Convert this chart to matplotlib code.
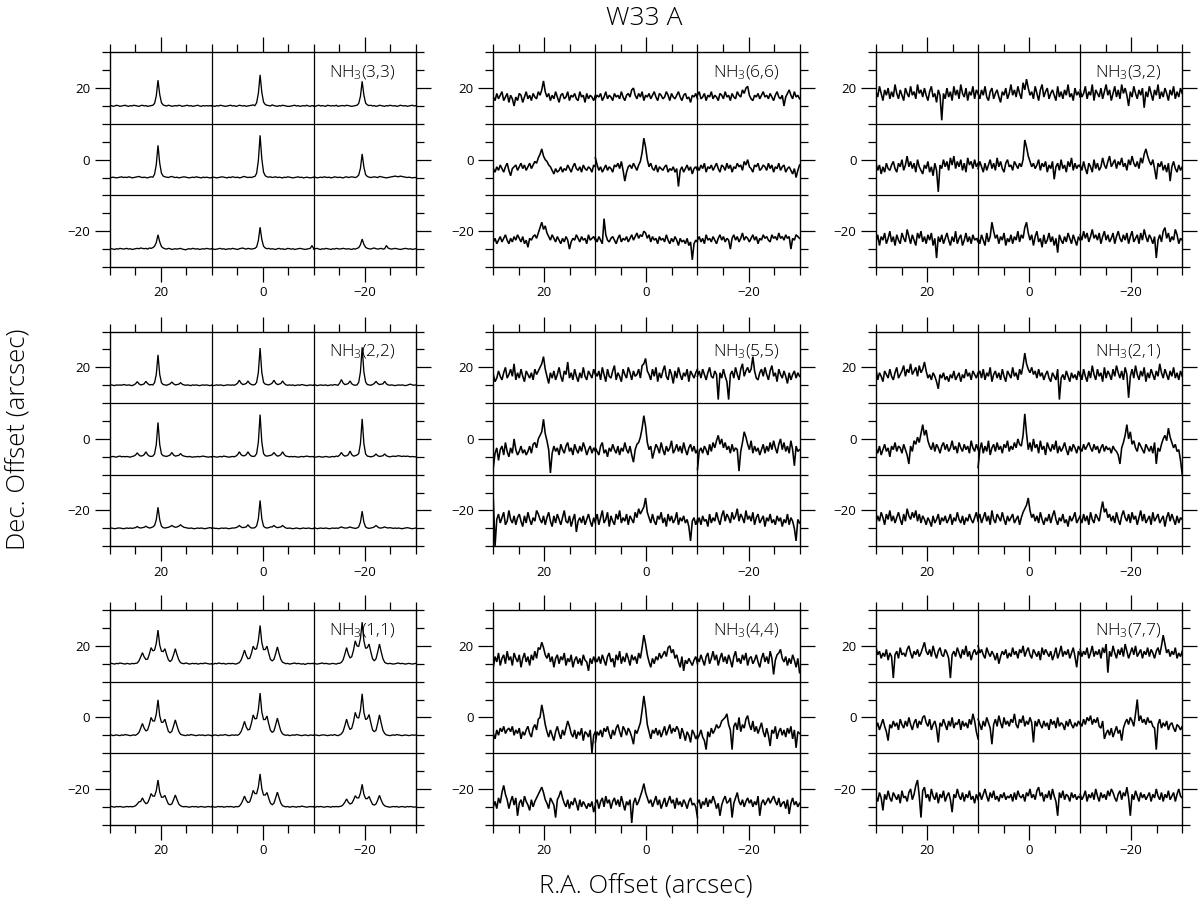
import numpy as np
import matplotlib
matplotlib.use("Agg")
import matplotlib.pyplot as plt
from matplotlib.ticker import MultipleLocator

plt.rcParams['font.family'] = ['Open Sans', 'DejaVu Sans']
plt.rcParams['font.weight'] = 'light'
plt.rcParams['mathtext.fontset'] = 'custom'
plt.rcParams['mathtext.rm'] = 'Open Sans:light'
plt.rcParams['mathtext.default'] = 'regular'

# map positions (arcsec) of the 3x3 cells in each panel
ra_offsets = [20, 0, -20]
dec_offsets = [20, 0, -20]

# ---- strong-line transitions: intensities in units of 0.1 (plot scale) ----
nh3_33 = [
    [0,1,-1,0,2,1,-1,0,1,2, 0,-1,1,0,2,1,0,-1,1,2, 0,1,-1,0,1,2,7,28,72,32, 9,3,1,0,2,1,-1,0,1,0, 2,1,-1,0,1,2,0,1,-1,0, 1,2,0,-1,1,0,1,0,1,0],
    [1,0,-1,1,0,2,1,0,-1,0, 1,2,0,1,-1,0,2,1,0,1, -1,0,1,2,3,1,9,35,87,38, 11,4,2,1,0,3,1,0,-1,1, 0,2,1,0,-1,-1,0,1,2,0, 1,-1,0,1,0,2,0,-1,1,0],
    [0,-1,1,2,0,1,0,-1,2,1, 0,1,0,2,-1,0,1,1,0,2, 1,0,-1,0,1,2,7,27,69,30, 8,3,1,2,0,1,-1,0,2,1, 0,-1,1,0,2,1,0,1,-1,0, 2,1,0,1,-1,0,1,2,0,1],
    [-1,0,1,0,-1,0,1,2,0,1, 0,2,1,-1,0,1,2,3,1,0, 1,0,-1,1,2,1,9,36,90,40, 12,4,2,1,0,2,3,1,0,1, -1,0,1,2,1,0,-1,0,1,0, 2,1,0,-1,1,0,1,0,-1,0],
    [0,1,0,-1,0,1,2,1,0,-1, 1,0,2,1,0,1,-1,0,2,3, 1,0,1,0,2,3,12,47,118,52, 15,5,2,1,2,0,1,2,0,1, 0,-1,1,0,2,1,0,-1,0,1, 2,0,1,-1,0,1,0,-1,0,1],
    [0,1,-1,0,1,0,2,1,0,1, -1,0,2,1,0,1,0,-1,1,2, 0,1,2,1,0,2,7,26,66,29, 8,3,1,0,1,2,1,0,3,2, 1,0,-1,0,1,2,3,4,3,2, 4,3,2,1,0,1,0,-1,0,0],
    [0,1,0,-1,1,0,2,1,0,1, 2,0,1,-1,0,1,2,1,3,2, 1,2,0,3,2,4,8,18,40,20, 7,3,1,0,2,1,-1,0,1,0, 1,2,0,-1,-2,0,1,0,2,1, 0,1,-1,0,1,0,2,1,0,1],
    [1,0,-1,0,1,2,0,1,-1,0, 1,0,2,1,0,-1,1,2,3,1, 0,2,1,0,1,2,6,24,61,27, 8,3,1,2,0,1,0,-1,1,2, 0,1,-1,0,2,1,0,1,-1,0, 1,2,1,0,-1,0,1,2,10,1],
    [0,1,2,0,-1,1,0,2,1,0, -1,1,0,2,1,0,1,2,1,0, 1,0,-1,1,0,2,4,12,28,13, 5,2,1,0,2,3,1,0,1,2, 0,1,10,3,1,0,1,2,1,0, -1,0,1,2,1,0,1,-1,0,1],
]

nh3_22 = [
    [0,1,0,-1,1,0,1,0,2,1, 0,1,0,-1,1,4,10,4,1,2, 4,11,5,1,2,1,7,30,85,30, 7,2,1,0,2,4,9,4,1,2, 3,7,3,1,0,1,0,-1,1,0, 1,0,-1,0,1,0,1,0,-1,0],
    [0,-1,0,1,0,1,0,-1,0,1, 1,0,1,0,2,6,14,6,2,3, 5,12,5,2,1,2,8,36,104,36, 8,3,2,1,3,6,14,6,2,3, 5,12,5,1,0,1,0,1,-1,0, 1,0,2,1,0,-1,0,1,0,0],
    [0,1,-1,0,1,0,0,1,-1,0, 1,0,2,1,0,6,16,6,2,3, 5,12,4,1,0,1,8,37,106,37, 9,2,1,0,2,5,11,5,2,3, 4,11,4,1,0,1,0,-1,0,1, 0,1,0,-1,0,2,3,1,0,1],
    [-1,0,1,0,-1,1,2,0,1,0, 1,0,-1,1,2,5,11,5,2,3, 6,14,6,2,1,2,8,34,96,34, 8,3,2,1,3,5,12,5,2,3, 4,9,4,2,1,0,1,0,-1,0, 0,1,0,1,2,1,0,-1,0,0],
    [0,1,0,-1,0,1,0,2,1,0, -1,0,1,0,2,6,14,6,3,3, 6,14,6,2,1,2,9,41,118,41, 9,3,2,3,4,6,12,6,2,3, 6,14,6,2,1,0,1,0,1,0, -1,0,1,0,1,2,1,0,1,0],
    [0,-1,0,1,0,-1,0,1,0,-1, 0,1,0,2,1,5,12,5,2,3, 6,16,6,2,3,5,9,37,106,37, 8,2,1,0,1,3,8,3,1,2, 3,8,3,1,0,1,2,1,2,3, 2,1,2,1,2,1,0,1,0,0],
    [0,1,0,-1,0,1,1,0,-1,0, 1,0,1,0,1,2,5,2,1,2, 3,6,3,1,2,4,8,24,59,24, 6,2,1,2,3,5,8,5,3,4, 6,10,6,3,2,1,0,1,0,-1, 0,1,0,1,0,-1,0,1,2,1],
    [0,1,0,0,-1,0,1,0,1,0, -1,0,1,1,2,4,8,4,2,3, 4,10,4,1,1,2,7,27,78,27, 6,2,1,2,4,4,8,4,2,3, 4,8,4,1,0,1,0,-1,0,1, 0,-1,0,1,0,0,1,0,-1,0],
    [0,1,-1,0,1,0,0,1,0,-1, 0,1,0,1,0,2,4,2,1,1, 2,4,2,1,0,1,4,17,48,17, 4,1,0,1,2,4,8,4,1,1, 2,4,2,1,2,1,0,1,0,1, 0,-1,0,1,2,1,0,-1,0,1],
]

nh3_11 = [
    [0,1,0,-1,1,0,2,1,0,-1, 1,0,-1,1,0,1, 2,8,19,31,19,12,13,27,45,36, 38,57,94,52,35,34,42,25,11,6, 11,25,42,25,11,3, 1,0,2,1,-1,0,1,0,1,-1, 0,1,0,2,1,0,-1,0],
    [0,-1,1,0,2,1,0,1,-1,0, 1,0,1,0,-1,1, 3,10,23,38,23,14,15,29,49,40, 42,64,107,59,39,40,49,29,12,8, 12,28,47,28,12,4, 2,0,1,-1,0,1,2,0,1,0, -1,0,-2,0,1,0,1,0],
    [1,0,-1,0,1,2,0,1,0,-1, 0,1,0,-1,1,1, 4,11,27,45,27,16,20,38,64,50, 48,70,116,64,43,45,55,33,14,8, 14,33,55,33,14,4, 1,0,1,0,-1,0,1,2,0,1, 0,-1,0,1,0,-1,0,1],
    [0,1,-1,0,1,0,-1,1,0,2, 1,0,-1,0,1,0, 3,8,20,33,20,12,15,30,50,40, 40,59,99,54,36,37,45,27,11,7, 11,26,43,26,11,3, 1,0,-1,1,0,2,1,0,-1,0, 1,0,1,-1,0,1,0,-1],
    [-1,0,1,0,-1,1,0,1,2,0, -1,0,1,0,1,0, 3,10,23,39,23,15,17,34,57,46, 47,71,118,65,44,44,54,32,14,8, 12,29,48,29,12,4, 1,0,1,-1,0,1,0,2,1,0, -1,0,1,0,-1,1,0,0],
    [0,1,0,-1,0,1,1,0,-1,0, 1,0,2,0,-1,1, 4,11,27,45,27,16,20,38,64,50, 48,70,116,64,44,47,58,35,15,10, 14,34,57,34,14,5, 1,0,-1,0,1,0,2,1,0,-1, 0,1,0,-1,0,1,0,1],
    [0,1,0,-1,1,0,1,0,-1,0, 1,0,1,0,1,3, 8,14,15,25,15,9,11,22,37,30, 30,45,75,41,27,27,32,19,8,6, 8,20,33,20,8,3, 1,0,1,0,-1,0,1,0,1,-1, 0,1,0,-1,0,1,0,0],
    [1,0,-1,0,1,0,1,-1,0,1, 0,1,0,-1,1,0, 2,8,18,30,18,12,14,28,46,37, 37,56,92,51,33,33,40,24,10,6, 10,25,41,25,10,3, 1,0,1,-1,0,1,0,-1,1,0, 2,1,0,-1,0,1,0,1],
    [0,-1,1,0,1,0,-1,0,1,0, -1,1,0,1,0,1, 2,6,13,22,13,8,10,19,31,25, 25,38,63,35,23,23,29,17,7,5, 8,19,32,19,8,3, 1,0,-1,0,1,0,1,-1,0,1, 0,-1,1,0,1,0,-1,0],
]

# ---- weak transitions: intensities in units of 0.5 (plot scale) ----
nh3_66 = [
    [5,3,7,4,6,8,3,5,7,2, 6,4,0,5,3,7,6,2,5,8, 4,6,3,7,5,4,8,6,9,14, 8,5,7,3,6,4,8,5,2,6, 7,4,5,8,3,6,5,7,4,3, 8,5,6,2,7,4,6,5,3,6],
    [4,6,5,7,3,5,8,4,6,5, 3,7,5,6,4,8,5,3,6,7, 5,9,10,6,4,7,5,8,3,6, 5,7,4,6,8,5,3,7,6,4, 5,8,6,3,7,5,4,6,8,5, 3,6,7,4,5,2,6,5,7,4],
    [6,8,4,5,7,3,6,5,8,4, 6,5,3,7,6,4,8,5,6,3, 7,5,4,8,6,5,9,7,10,11, 6,4,3,6,5,7,4,6,8,5, 6,4,7,5,3,6,8,5,4,6, 0,5,7,9,6,4,8,5,6,4],
    [5,3,6,4,7,5,3,6,8,4, 1,5,6,7,4,6,8,5,7,4, 6,8,5,7,9,8,11,13,16,12, 10,9,7,6,4,2,5,3,4,6, 3,5,4,7,5,3,6,8,5,4, 6,3,7,5,4,6,5,3,7,6],
    [11,7,4,6,3,5,7,4,6,5, 3,7,6,8,5,9,4,-2,3,6, 7,5,8,6,4,7,9,14,22,17, 10,6,8,5,4,7,3,6,5,4, 6,7,3,5,4,6,3,5,-5,4, 6,3,5,7,4,6,2,5,6,4],
    [6,4,7,5,8,3,6,5,7,4, 6,8,5,3,7,6,4,8,5,7, 3,6,5,8,6,7,4,9,7,10, 6,5,3,7,6,8,4,5,7,6, 4,8,5,7,3,6,5,8,4,6, 7,3,5,6,4,2,5,0,4,7],
    [4,6,3,5,7,4,6,8,5,3, 6,4,7,5,8,6,4,7,3,5, 1,6,5,7,8,6,9,12,15,11, 13,9,7,5,8,6,4,7,5,3, 6,4,7,5,0,4,6,5,8,6, 4,7,5,6,3,8,5,6,7,5],
    [6,4,7,5,3,17,8,5,4,6, 7,5,3,6,8,4,6,5,7,4, 6,8,5,7,9,6,8,7,10,9, 6,8,4,7,5,6,3,7,5,6, 4,8,5,3,6,4,7,5,2,6, 4,5,3,6,2,4,-6,3,5,4],
    [5,7,4,6,3,8,5,6,4,7, 5,3,6,8,5,7,4,6,5,0, 6,8,5,7,4,6,9,5,7,6, 4,6,8,5,7,3,6,5,8,6, 7,5,4,8,6,7,5,9,6,7, 5,8,6,7,0,6,5,8,7,6],
]

nh3_55 = [
    [6,2,4,8,5,3,7,10,4,6, 9,5,12,3,7,4,9,5,2,8, 6,4,7,3,9,6,8,10,12,16, 9,5,1,7,4,8,3,6,10,5, 2,8,6,13,4,7,3,9,5,2, 7,4,10,5,3,8,6,4,9,6],
    [7,5,8,3,10,6,2,9,5,4, 8,11,3,7,5,2,9,6,4,10, 7,3,8,5,6,9,4,11,12,15, 8,6,3,9,5,10,2,7,4,8, 11,5,3,9,6,1,8,4,10,6, 3,7,5,9,2,8,6,4,7,9],
    [5,8,4,9,6,3,7,10,5,4, 8,6,-8,7,4,9,5,2,-8,6, 8,4,10,6,3,9,12,5,8,10, 7,9,16,8,4,3,7,9,5,10, 6,3,8,11,5,7,2,9,6,4, 8,5,1,7,3,6,8,4,7,5],
    [-6,2,5,-2,4,6,1,8,3,0, 5,2,10,4,1,3,6,2,4,1, 3,6,2,7,8,5,10,12,14,21, 13,9,4,-9,2,6,3,5,1,7, 4,2,6,8,3,5,1,7,4,2, 6,3,8,5,1,4,6,2,5,3],
    [5,3,1,6,8,2,4,0,5,3, 7,4,2,6,1,5,3,8,4,2, 6,1,-3,4,7,8,11,16,23,17, 8,4,6,-1,3,7,5,2,8,4, 1,6,3,5,9,2,4,7,3,6, 2,8,4,1,5,7,3,6,2,4],
    [-7,3,5,2,6,4,1,7,3,8, 5,9,12,7,10,5,8,4,6,2, 7,3,5,4,-8,3,8,14,11,7, 4,9,2,6,3,5,1,4,7,2, 6,3,8,4,9,5,2,7,10,4, 8,3,6,2,9,4,-5,6,3,4],
    [16,-10,5,8,3,6,9,2,4,10, 5,3,7,2,6,8,4,1,7,3, 9,5,2,6,4,10,8,5,3,7, 2,6,9,4,1,7,3,8,5,2, 6,10,4,3,7,1,5,8,-2,4, 6,3,7,2,5,8,4,1,6,3],
    [4,8,2,6,10,3,5,9,1,7, 4,2,8,5,10,3,6,4,8,2, 7,5,3,9,6,11,8,10,12,17, 9,6,3,8,4,2,7,5,9,3, 6,1,8,4,7,3,5,9,2,6, 4,7,3,5,1,-7,4,6,2,5],
    [3,6,2,7,4,5,1,8,3,6, 4,9,5,2,7,10,4,8,6,3, 9,5,7,11,4,8,6,3,10,5, 7,4,9,2,6,8,3,5,7,1, 6,4,8,3,5,2,7,4,6,1, 5,3,8,2,6,4,0,-7,5,3],
]

nh3_44 = [
    [-2,4,1,6,-1,3,5,0,7,2, 4,-1,6,3,1,5,-2,3,6,1, 4,-1,5,2,7,3,9,8,12,9, 5,3,6,1,4,-2,3,5,0,4, 2,6,-1,3,1,5,-2,2,4,0, 3,-1,5,2,1,-4,3,0,4,1],
    [3,1,4,0,5,2,-1,4,6,1, 3,-2,5,2,7,0,4,1,6,3, -1,5,2,4,0,6,3,9,16,11, 5,1,-2,3,0,4,2,6,3,5, 7,4,9,10,6,8,3,5,1,-2, 4,-4,2,0,3,1,-1,2,4,0],
    [3,1,5,2,-1,4,6,0,3,7, 2,5,-1,3,6,1,4,0,5,2, -2,4,7,1,3,0,5,2,6,-1, 3,4,0,2,5,1,-2,3,6,1, 4,0,7,3,-6,2,5,6,8,3, 1,4,-1,3,0,5,2,-2,3,-5],
    [1,-2,3,0,4,2,5,1,3,4, 2,5,0,3,1,4,-2,2,0,3, 5,1,-1,4,6,3,9,10,17,12, 6,2,-1,3,0,-3,2,5,1,-2, 3,0,4,8,5,1,-1,3,-2,2, 0,4,-3,2,1,-1,3,-10,0,2],
    [-4,2,0,3,-1,4,2,5,1,-2, 3,0,4,6,2,-1,5,3,0,4, 2,-1,-5,3,1,4,7,14,22,15, 6,2,-2,3,1,4,0,3,-1,2, 5,0,3,6,1,4,2,5,3,-2, 4,1,-3,2,0,-4,3,1,-2,0],
    [-2,0,3,-1,-3,-8,2,-1,4,1, 3,6,4,5,8,9,10,12,6,3, -8,5,7,3,10,2,6,4,9,11, 6,3,8,2,5,1,4,7,2,-1, 4,0,-6,3,1,5,-2,2,4,0, 3,-1,4,1,5,-2,3,-7,2,1],
    [0,3,-1,5,2,8,12,7,4,-1, 3,6,1,5,-5,2,4,0,6,3, 1,-2,4,0,3,5,7,9,11,8, 4,2,-1,5,3,1,-6,4,6,9, 5,2,0,4,-1,3,1,5,2,-2, 4,0,3,1,-1,2,0,3,-3,1],
    [2,4,-1,3,5,0,6,2,4,-1, 3,5,1,4,0,6,2,-2,3,1, 4,-9,2,5,1,3,6,9,13,8, 5,2,4,0,3,6,1,4,-1,2, 5,0,3,6,2,4,-1,5,1,3, 0,4,2,-1,3,5,1,2,0,-6],
    [2,4,-1,3,1,5,0,4,2,6, 3,-1,2,-5,1,4,6,2,3,5, -6,2,5,8,3,1,4,0,3,5, 2,4,0,3,1,6,-5,2,4,1, 3,5,2,4,6,3,1,5,0,2, 3,-1,4,-4,2,5,1,3,0,2],
]

nh3_32 = [
    [8,5,11,7,3,9,6,10,4,8, 5,12,7,4,9,6,3,10,7,5, 11,6,8,4,12,7,9,5,10,6, 3,8,11,5,7,2,9,6,-8,7, 4,10,5,8,3,11,6,9,4,12, 7,5,10,3,8,6,11,4,9,7],
    [7,4,9,6,11,5,3,8,10,4, 7,9,5,2,8,6,10,4,7,12, 6,9,5,11,7,4,13,9,15,10, 6,8,4,11,7,3,9,12,5,8, 10,4,7,9,6,3,11,5,8,4, 9,6,12,5,7,3,10,6,8,5],
    [9,5,7,11,4,8,6,12,3,9, 7,5,10,4,8,12,6,9,3,7, 11,5,9,4,12,7,10,6,0,8, 5,11,7,4,9,6,10,-1,8,5, 11,7,3,9,6,12,4,8,5,10, 7,3,9,6,11,4,8,5,10,7],
    [8,4,7,2,6,3,8,5,4,7, 9,5,3,8,6,10,4,7,12,6, 9,5,8,3,10,6,4,2,7,5, 9,3,6,1,8,4,-8,7,5,10, 6,9,4,11,7,12,5,9,6,10, 4,8,3,11,7,9,5,10,6,8],
    [5,9,6,3,8,4,7,10,5,8, 4,11,6,9,5,3,8,10,6,7, 4,9,7,5,8,6,10,21,17,12, 9,6,8,5,7,10,4,8,6,9, 3,7,5,9,-1,6,8,4,10,5, 7,3,9,6,11,4,8,5,7,6],
    [7,4,9,5,2,8,6,3,10,5, 8,4,6,11,7,5,9,12,6,8, 10,5,9,7,11,6,8,4,10,7, 12,8,6,9,5,11,8,13,16,12, 9,7,10,5,-1,8,6,9,4,7, 3,8,-2,6,9,5,3,7,4,6],
    [4,8,2,7,5,9,3,6,10,4, 7,2,8,5,3,9,6,4,11,7, 3,8,5,2,9,6,10,4,7,3, 8,5,9,2,6,-5,7,4,8,3, 6,9,5,2,7,4,10,3,6,8, 2,5,9,4,7,3,8,5,6,4],
    [6,3,8,5,2,9,4,7,15,10, 6,8,3,7,5,9,2,6,4,8, 3,7,5,10,4,8,6,12,15,9, 5,8,2,7,10,4,6,1,8,3, 5,9,4,7,2,6,-2,8,5,3, 7,4,9,6,3,8,5,2,7,5],
    [8,5,10,6,9,4,7,11,6,8, 5,9,3,7,10,5,8,4,6,9, 3,7,10,6,4,8,5,9,3,7, 10,4,6,8,3,9,5,11,7,4, 8,6,3,7,-5,5,8,4,10,12, 6,9,4,7,5,11,8,3,6,5],
]

nh3_21 = [
    [9,3,7,5,2,8,6,4,9,5, 3,7,10,4,6,8,11,5,9,7, 12,6,8,10,5,11,7,9,13,8, 4,6,3,7,5,2,-2,6,4,7, 3,5,2,6,4,8,3,5,7,2, 6,4,9,5,7,3,8,6,4,7],
    [6,8,4,9,3,7,5,10,2,6, 8,4,7,3,9,5,2,8,6,4, 10,5,7,3,9,6,11,18,12,9, 7,10,6,8,4,9,5,7,3,6, 8,4,2,7,5,3,9,-8,4,6, 3,8,5,2,7,4,6,3,8,5],
    [7,3,9,5,2,8,4,11,6,3, 9,5,7,2,10,4,8,6,3,9, 5,11,7,4,8,3,10,6,-7,5, 9,4,11,6,3,8,5,10,2,7, 4,9,6,3,8,5,12,7,4,9, 6,3,8,5,10,4,7,3,8,5],
    [5,2,6,1,4,7,3,5,0,6, 4,8,3,6,5,2,7,4,1,-4, 6,3,9,7,11,8,13,18,12,15, 9,6,4,8,3,7,5,2,6,8, 4,7,3,5,9,4,6,2,8,5, 3,7,4,6,2,9,5,3,7,4],
    [-6,4,8,2,6,3,9,1,5,7, 3,8,4,6,2,7,5,9,3,6, 4,8,5,10,7,6,12,24,13,4, 8,3,10,5,7,2,9,4,6,1, 8,5,3,7,4,9,2,6,3,5, 8,4,1,6,3,7,5,2,6,4],
    [5,3,7,4,6,8,5,3,7,4, 6,2,5,7,3,6,4,5,2,6, 4,3,1,-4,5,8,12,18,10,14, 7,9,5,3,8,6,4,2,7,5, 3,6,2,8,-4,5,3,7,10,12, 9,16,11,8,5,7,3,4,-2,-10],
    [3,7,4,9,6,2,8,5,10,4, 7,3,6,9,5,2,8,4,11,7, 5,9,6,10,4,8,3,7,5,2, 6,4,1,7,3,5,8,2,6,4, 7,3,5,8,2,6,4,9,5,3, 7,2,6,4,8,5,3,6,9,4],
    [5,8,3,6,9,4,7,2,10,5, 3,8,6,4,9,5,2,7,4,6, 8,3,5,7,2,6,9,11,13,17, 10,6,8,4,7,3,9,5,2,6, 4,8,3,7,10,5,2,6,4,8, 3,5,1,7,4,6,9,3,5,7],
    [6,3,8,4,7,2,9,5,3,8, 6,4,10,15,9,11,6,8,4,7, 3,9,5,2,7,10,6,4,8,3, 9,5,7,2,6,10,4,8,3,5, 7,2,9,4,6,8,3,5,7,1, 6,9,4,8,5,2,7,3,6,5],
]

nh3_77 = [
    [9,5,7,3,6,4,8,2,6,4, -8,5,7,3,9,5,6,4,8,10, 6,3,7,5,8,4,6,9,12,7, 5,8,4,10,6,3,7,9,5,4, 8,6,3,-8,5,7,4,9,6,3, 8,5,10,4,7,2,6,8,5,7],
    [10,6,8,5,3,9,6,4,7,5, 2,6,0,4,7,5,8,3,6,4, 9,5,7,3,8,6,10,4,7,9, 5,3,8,6,4,7,2,9,5,8, 6,4,7,2,5,9,3,6,10,4, 7,5,8,3,6,9,4,-2,7,5],
    [8,4,7,5,9,3,6,10,4,7, 5,8,3,9,6,11,-5,7,4,10, 6,3,8,5,9,4,11,7,3,6, 9,5,10,4,6,8,3,7,5,9, 4,8,6,3,7,9,5,10,16,11, 6,8,4,7,5,9,3,6,4,7],
    [4,7,3,6,9,5,2,-3,6,4, 8,5,7,3,9,6,4,8,5,10, 6,3,7,9,4,8,6,10,11,7, 5,9,3,6,8,4,-4,7,5,9, 6,3,8,5,10,4,7,6,9,3, 8,5,7,4,9,6,12,8,2,-2],
    [9,6,3,8,5,10,7,4,-5,6, 9,5,11,7,4,10,6,8,5,9, 7,12,6,4,9,7,11,5,8,6, 10,7,-4,8,5,9,6,4,8,5, 7,3,9,6,8,4,10,5,7,6, 3,8,5,9,6,4,7,5,8,6],
    [7,5,9,6,10,8,11,6,9,7, 10,5,4,8,-2,1,3,0,4,-1, 2,5,1,3,-3,4,7,9,6,10, 8,5,12,20,8,11,7,9,6,10, 7,8,5,4,-8,6,9,4,7,5, 8,3,6,7,4,2,6,5,3,5],
    [6,3,8,5,-2,7,4,9,5,3, 8,6,4,7,2,9,5,6,3,8, 10,4,7,12,15,6,-6,9,11,5, 7,3,10,6,4,8,2,7,5,9, 3,6,8,4,-3,7,5,10,6,4, 8,3,7,5,9,4,6,2,7,4],
    [5,8,4,7,10,6,3,8,5,9, 4,6,3,7,5,8,4,6,5,7, 3,8,4,9,6,5,7,3,8,6, 10,5,7,4,9,11,6,8,3,7, 5,9,4,10,6,3,-5,8,5,9, 4,7,6,3,8,5,7,4,6,5],
    [7,4,6,9,3,7,5,8,4,10, 6,3,8,5,7,4,9,6,10,8, 5,3,7,9,4,8,6,11,5,-5, 7,4,9,6,3,8,5,7,4,6, 8,3,7,5,10,6,4,8,3,7, 5,9,4,6,8,3,7,10,6,5],
]

# panel grid: (transition label, spectra, intensity unit)
panel_grid = [
    [("(3,3)", nh3_33, 0.1), ("(6,6)", nh3_66, 0.5), ("(3,2)", nh3_32, 0.5)],
    [("(2,2)", nh3_22, 0.1), ("(5,5)", nh3_55, 0.5), ("(2,1)", nh3_21, 0.5)],
    [("(1,1)", nh3_11, 0.1), ("(4,4)", nh3_44, 0.5), ("(7,7)", nh3_77, 0.5)],
]

fig = plt.figure(figsize=(12, 9.05), dpi=100)
col_left = [0.0913, 0.4111, 0.7300]
row_bottom = [0.7050, 0.3964, 0.0887]
w, h = 0.2552, 0.2372

for pr in range(3):
    for pc in range(3):
        label, spectra, unit = panel_grid[pr][pc]
        ax = fig.add_axes([col_left[pc], row_bottom[pr], w, h])
        ax.set_xlim(30, -30)
        ax.set_ylim(-30, 30)
        lw = 0.95 if unit < 0.2 else 1.15
        for k, spec in enumerate(spectra):
            i, j = divmod(k, 3)
            ra, dec = ra_offsets[j], dec_offsets[i]
            v = np.asarray(spec, dtype=float) * unit
            x = np.linspace(ra + 10, ra - 10, len(v))
            ax.plot(x, dec - 5 + v, color='black', lw=lw, solid_joinstyle='miter')
        for d in (10, -10):
            ax.axvline(d, color='black', lw=0.9)
            ax.axhline(d, color='black', lw=0.9)
        for s in ax.spines.values():
            s.set_linewidth(1.0)
        ax.xaxis.set_major_locator(MultipleLocator(20))
        ax.xaxis.set_minor_locator(MultipleLocator(5))
        ax.yaxis.set_major_locator(MultipleLocator(20))
        ax.yaxis.set_minor_locator(MultipleLocator(5))
        ax.tick_params(which='both', direction='out', top=True, right=True,
                       width=0.9, labelsize=9.5, pad=3)
        ax.tick_params(which='major', length=11)
        ax.tick_params(which='minor', length=6)
        for t in ax.get_xticklabels() + ax.get_yticklabels():
            t.set_fontweight('normal')
        ax.text(-26, 24.3, r'NH$_3$' + label, ha='right', va='center', fontsize=12.5)

fig.text(0.537, 0.980, "W33 A", ha='center', va='center', fontsize=19)
fig.text(0.016, 0.515, "Dec. Offset (arcsec)", rotation=90, ha='center', va='center', fontsize=18.5)
fig.text(0.538, 0.020, "R.A. Offset (arcsec)", ha='center', va='center', fontsize=18.5)

fig.savefig("out.png", dpi=100)
